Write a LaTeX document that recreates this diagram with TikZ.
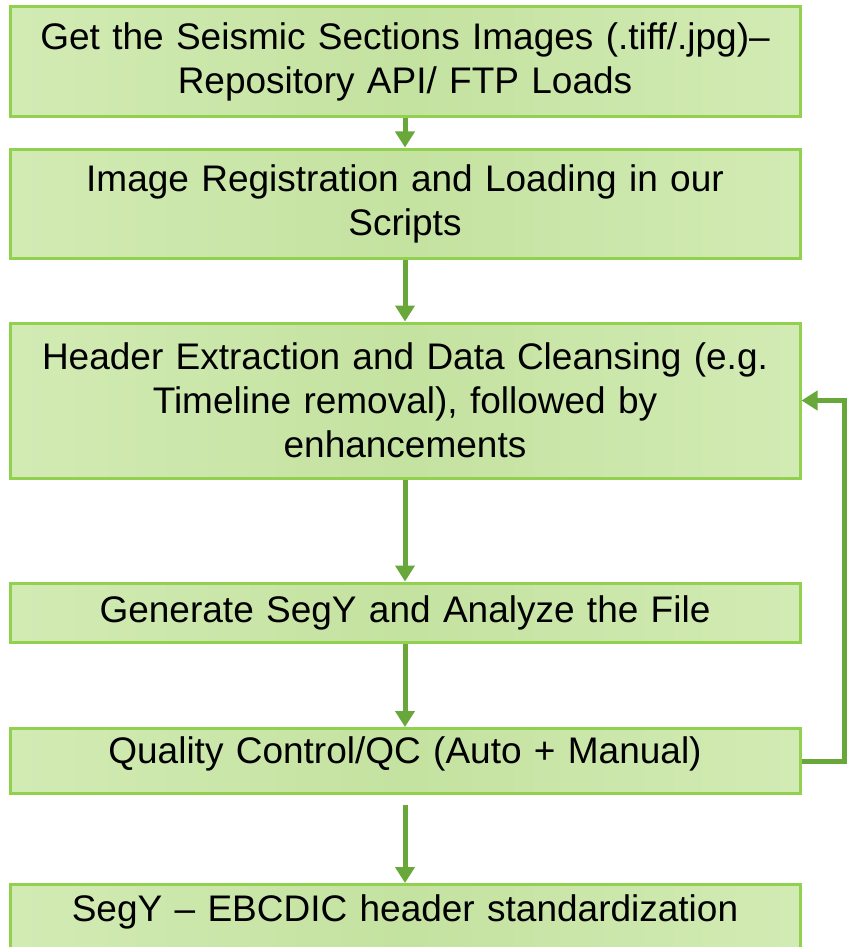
\documentclass[tikz,border=0pt]{standalone}
\usepackage{fontspec}
\setmainfont{Liberation Sans}
\usetikzlibrary{arrows.meta}
\definecolor{boxedge}{RGB}{146,208,80}
\definecolor{boxlight}{RGB}{210,235,180}
\definecolor{boxmid}{RGB}{196,226,160}
\definecolor{arrowgreen}{RGB}{104,168,58}
\begin{document}
\begin{tikzpicture}[x=1pt,y=-1pt,
  stepbox/.style={draw=boxedge, line width=3pt, left color=boxlight, right color=boxlight,
    middle color=boxmid, minimum width=790pt, inner xsep=0pt, inner ysep=0pt,
    text width=785pt, align=center, font=\fontsize{37}{44}\selectfont},
  flow/.style={draw=arrowgreen, line width=5pt, -{Triangle[width=19pt,length=16pt]}}]
\useasboundingbox (0,0) rectangle (848,947);
\node[stepbox, minimum height=110pt] (b1) at (405,61.5) {Get the Seismic Sections Images (.tiff/.jpg)--\\Repository API/ FTP Loads};
\node[stepbox, minimum height=109pt] (b2) at (405,203.5) {Image Registration and Loading in our\\Scripts};
\node[stepbox, minimum height=155pt] (b3) at (405,400.5) {Header Extraction and Data Cleansing (e.g.\\Timeline removal), followed by\\enhancements};
\node[stepbox, minimum height=59pt] (b4) at (405,612.5) {Generate SegY and Analyze the File};
\node[stepbox, anchor=north, text height=35pt, text depth=30pt] (b5) at (405,727) {Quality Control/QC (Auto + Manual)};
\node[stepbox, anchor=north, inner ysep=8pt, text height=29pt, text depth=80pt] (b6) at (405,883) {SegY -- EBCDIC header standardization};
\draw[flow] (b1.south) -- (b2.north);
\draw[flow] (b2.south) -- (b3.north);
\draw[flow] (b3.south) -- (b4.north);
\draw[flow] (b4.south) -- (b5.north);
\draw[flow, shorten <=10pt] (b5.south) -- (b6.north);
\draw[flow] (b5.east) -- ++(43,0) |- (b3.east);
\end{tikzpicture}
\end{document}
